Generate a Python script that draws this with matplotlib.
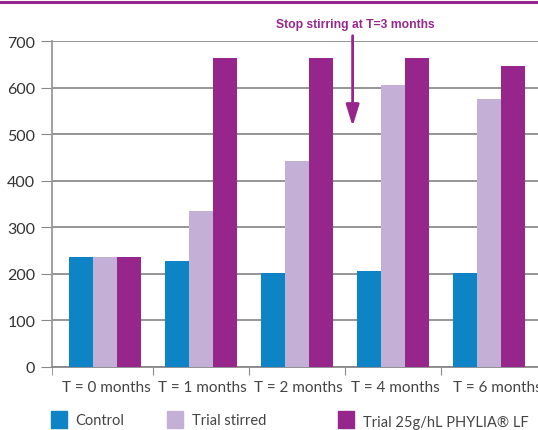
import numpy as np
import matplotlib
matplotlib.use("Agg")
import matplotlib.pyplot as plt
from matplotlib.patches import Rectangle
from matplotlib.lines import Line2D

# data
CATEGORIES = ["T = 0 months", "T = 1 months", "T = 2 months", "T = 4 months", "T = 6 months"]
CONTROL = [235, 227, 201, 205, 201]
TRIAL_STIRRED = [235, 334, 442, 605, 575]
TRIAL_PHYLIA = [235, 664, 664, 664, 647]
SERIES = ["Control", "Trial stirred", "Trial 25g/hL PHYLIA\u00ae LF"]
COLORS = ["#0e83c6", "#c4b0d6", "#96268c"]
ANNOTATION = "Stop stirring at T=3 months"

plt.rcParams["font.family"] = ["Lato", "DejaVu Sans"]

W, H = 538, 431
fig = plt.figure(figsize=(W / 100, H / 100), dpi=100)
ax = fig.add_axes([52 / W, 1 - 367.5 / H, (W - 52) / W, (367.5 - 42.3) / H])

x = np.arange(len(CATEGORIES))
bw = 0.25
for i, (vals, color) in enumerate(zip([CONTROL, TRIAL_STIRRED, TRIAL_PHYLIA], COLORS)):
    ax.bar(x + (i - 1) * bw, vals, width=bw, color=color, zorder=3)

ax.set_xlim(-0.55, 4.51)
ax.set_ylim(0, 700)
ax.set_yticks(range(0, 701, 100))
ax.yaxis.grid(True, color="#8c8c8c", linewidth=1.3, zorder=0)
ax.set_axisbelow(True)

# ticks sit between the groups
ax.set_xticks(x[:-1] + 0.5, minor=False)
ax.set_xticks([-0.55], minor=True)
ax.tick_params(axis="x", which="both", length=6, color="#888888", labelbottom=False)
for xi, lab in zip(x, CATEGORIES):
    ax.text(xi + 0.02 + (0.07 if xi == x[-1] else 0), -45, lab, ha="center", va="center",
            fontsize=11, color="#444444", transform=ax.transData, clip_on=False)
ax.tick_params(axis="y", length=8, color="#888888", labelsize=11.5, labelcolor="#333333", pad=4)

for s in ["top", "right"]:
    ax.spines[s].set_visible(False)
ax.spines["left"].set_color("#999999")
ax.spines["bottom"].set_color("#888888")
ax.spines["left"].set_linewidth(1.3)
ax.spines["bottom"].set_linewidth(1.3)

# purple rule on top
fig.add_artist(Line2D([0, 1], [1 - 3.3 / H, 1 - 3.3 / H], color="#96268c", linewidth=2.2))

# annotation with arrow
ax.annotate("", xy=(2.58, 517), xytext=(2.58, 712), xycoords="data",
            arrowprops=dict(arrowstyle="-|>,head_width=0.4,head_length=1.3",
                            color="#96268c", lw=2, shrinkA=0, shrinkB=0),
            annotation_clip=False)
fig.text(355 / W, 1 - 25 / H, ANNOTATION, ha="center", va="center", fontsize=8.7,
         fontweight="bold", color="#96268c",
         family=["Liberation Sans Narrow", "Liberation Sans", "DejaVu Sans"])

# legend drawn by hand to match the uneven spacing
legend_x = [50.5, 167, 338]
text_x = [75, 191.5, 363]
text_y = [421, 421, 423]
for lx, tx, ty, lab, color in zip(legend_x, text_x, text_y, SERIES, COLORS):
    fig.add_artist(Rectangle((lx / W, 1 - 428.5 / H), 16 / W, 16.5 / H,
                             transform=fig.transFigure, color=color))
    fig.text(tx / W, 1 - ty / H, lab, ha="left", va="center", fontsize=10.5, color="#444444")

fig.savefig("out.png", dpi=100)
